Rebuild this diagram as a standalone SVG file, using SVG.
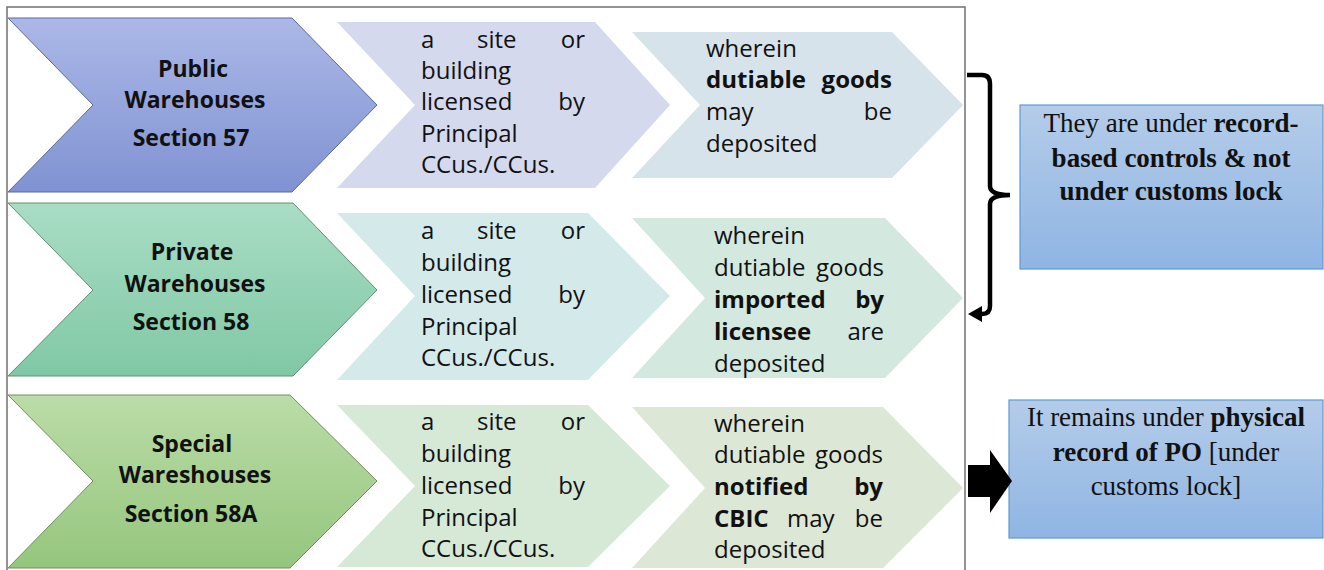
<svg xmlns="http://www.w3.org/2000/svg" width="1324" height="570" viewBox="0 0 1324 570">
<defs>
<linearGradient id="gBlue" x1="0" y1="0" x2="0" y2="1"><stop offset="0" stop-color="#abb8e7"/><stop offset="1" stop-color="#8092d2"/></linearGradient>
<linearGradient id="gTeal" x1="0" y1="0" x2="0" y2="1"><stop offset="0" stop-color="#a9ddc5"/><stop offset="1" stop-color="#80c8a5"/></linearGradient>
<linearGradient id="gGreen" x1="0" y1="0" x2="0" y2="1"><stop offset="0" stop-color="#bbdca7"/><stop offset="1" stop-color="#95c67d"/></linearGradient>
<linearGradient id="gBox" x1="0" y1="0" x2="0" y2="1"><stop offset="0" stop-color="#b4cce9"/><stop offset="1" stop-color="#8fb5e3"/></linearGradient>
</defs>
<style>
.hd{font-family:"Open Sans","Liberation Sans",sans-serif;font-weight:bold;font-size:23px;fill:#111;text-anchor:middle}
.tx{font-family:"Open Sans","Liberation Sans",sans-serif;font-size:24px;fill:#111}
.b{font-weight:bold}
.e{text-anchor:end}
.sr{font-family:"Liberation Serif","Times New Roman",serif;font-size:27px;fill:#111;text-anchor:middle}
.frame{fill:none;stroke:#707070;stroke-width:1.5}
.box{fill:url(#gBox);stroke:#5b9bd5;stroke-width:1.2}
</style>
<rect x="0" y="0" width="1324" height="570" fill="#fff"/>
<path class="frame" d="M7,575 V7 H965 V575"/>

<g id="row1-title">
<path d="M8,18 H292 L377,105 L292,192 H8 L93,105 Z" fill="url(#gBlue)" stroke="#5b6b9c" stroke-width="1"/>
<text class="hd" x="193" y="77">Public</text>
<text class="hd" x="195" y="108">Warehouses</text>
<text class="hd" x="191" y="146">Section 57</text>
</g>
<g id="row1-site">
<path d="M337,22 H595 L670,105 L595,188 H337 L415,105 Z" fill="#d5d9ee"/>
<text class="tx" x="421" y="48">a</text><text class="tx" x="477" y="48">site</text><text class="tx e" x="585" y="48">or</text>
<text class="tx" x="421" y="79">building</text>
<text class="tx" x="421" y="110">licensed</text><text class="tx e" x="585" y="110">by</text>
<text class="tx" x="421" y="142">Principal</text>
<text class="tx" x="421" y="173">CCus./CCus.</text>
</g>
<g id="row1-goods">
<path d="M632,32 H892 L963,105 L892,178 H632 L700,105 Z" fill="#d7e3ea"/>
<text class="tx" x="706" y="57">wherein</text>
<text class="tx b" x="706" y="88">dutiable</text><text class="tx b e" x="892" y="88">goods</text>
<text class="tx" x="706" y="120">may</text><text class="tx e" x="892" y="120">be</text>
<text class="tx" x="706" y="152">deposited</text>
</g>

<g id="row2-title">
<path d="M8,203 H293 L377,290 L293,376 H8 L93,290 Z" fill="url(#gTeal)" stroke="#5f8f77" stroke-width="1"/>
<text class="hd" x="192" y="260">Private</text>
<text class="hd" x="195" y="292">Warehouses</text>
<text class="hd" x="191" y="330">Section 58</text>
</g>
<g id="row2-site">
<path d="M337,213 H588 L670,296 L588,380 H337 L415,296 Z" fill="#d4e9ea"/>
<text class="tx" x="421" y="239">a</text><text class="tx" x="477" y="239">site</text><text class="tx e" x="585" y="239">or</text>
<text class="tx" x="421" y="271">building</text>
<text class="tx" x="421" y="303">licensed</text><text class="tx e" x="585" y="303">by</text>
<text class="tx" x="421" y="335">Principal</text>
<text class="tx" x="421" y="366">CCus./CCus.</text>
</g>
<g id="row2-goods">
<path d="M632,218 H885 L963,298 L885,378 H632 L705,298 Z" fill="#d3e9df"/>
<text class="tx" x="714" y="244">wherein</text>
<text class="tx" x="714" y="276">dutiable</text><text class="tx e" x="884" y="276">goods</text>
<text class="tx b" x="714" y="308">imported</text><text class="tx b e" x="884" y="308">by</text>
<text class="tx b" x="714" y="340">licensee</text><text class="tx e" x="884" y="340">are</text>
<text class="tx" x="714" y="372">deposited</text>
</g>

<g id="row3-title">
<path d="M8,395 H290 L377,481 L290,568 H8 L93,481 Z" fill="url(#gGreen)" stroke="#6f8f60" stroke-width="1"/>
<text class="hd" x="192" y="452">Special</text>
<text class="hd" x="195" y="483">Wareshouses</text>
<text class="hd" x="191" y="522">Section 58A</text>
</g>
<g id="row3-site">
<path d="M337,405 H588 L670,486 L588,567 H337 L415,486 Z" fill="#d6e9d7"/>
<text class="tx" x="421" y="430">a</text><text class="tx" x="477" y="430">site</text><text class="tx e" x="585" y="430">or</text>
<text class="tx" x="421" y="462">building</text>
<text class="tx" x="421" y="494">licensed</text><text class="tx e" x="585" y="494">by</text>
<text class="tx" x="421" y="526">Principal</text>
<text class="tx" x="421" y="557">CCus./CCus.</text>
</g>
<g id="row3-goods">
<path d="M632,407 H883 L963,488 L883,568 H632 L705,488 Z" fill="#dde7d6"/>
<text class="tx" x="714" y="432">wherein</text>
<text class="tx" x="714" y="463">dutiable</text><text class="tx e" x="883" y="463">goods</text>
<text class="tx b" x="714" y="495">notified</text><text class="tx b e" x="883" y="495">by</text>
<text class="tx b" x="714" y="527">CBIC</text><text class="tx" x="787" y="527">may</text><text class="tx e" x="883" y="527">be</text>
<text class="tx" x="714" y="558">deposited</text>
</g>

<g id="note-record">
<rect class="box" x="1020" y="105" width="303" height="164"/>
<text class="sr" x="1171" y="132">They are under <tspan font-weight="bold">record-</tspan></text>
<text class="sr" x="1171" y="167" font-weight="bold">based controls &amp; not</text>
<text class="sr" x="1171" y="200" font-weight="bold">under customs lock</text>
</g>
<g id="note-physical">
<rect class="box" x="1009" y="400" width="314" height="138"/>
<text class="sr" x="1166" y="426">It remains under <tspan font-weight="bold">physical</tspan></text>
<text class="sr" x="1166" y="461"><tspan font-weight="bold">record of PO</tspan> [under</text>
<text class="sr" x="1166" y="495">customs lock]</text>
</g>

<g id="connectors">
<path d="M967,75 H982 Q990,75 990,84 V186 Q990,195 1010,195 Q990,195 990,204 V306 Q990,314 982,314 H980" fill="none" stroke="#000" stroke-width="4.5"/>
<path d="M968,314 L982,306 L982,322 Z" fill="#000"/>
<path d="M968,465 H990 V450 L1012,481 L990,513 V497 H968 Z" fill="#000"/>
</g>
</svg>
